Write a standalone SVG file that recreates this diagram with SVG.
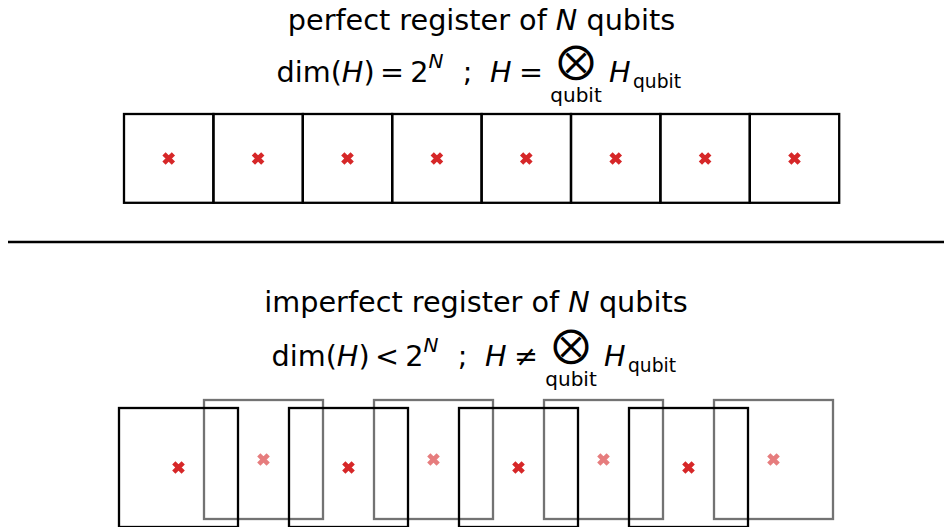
<svg xmlns="http://www.w3.org/2000/svg" width="944" height="527" viewBox="0 0 944 527">
<style>
text{font-family:"DejaVu Sans",sans-serif;fill:#000}
.t{font-size:28.7px}
.s{font-size:20px}
.ss{font-size:18.7px}
.op{font-size:37px}
.it{font-style:italic}
.box{fill:none;stroke:#000;stroke-width:2.3}
.gbox{fill:none;stroke:#000;stroke-opacity:0.55;stroke-width:2.3}
.x{fill:none;stroke:#d62728;stroke-width:4.6}
.xl{fill:none;stroke:#d62728;stroke-opacity:0.6;stroke-width:4.6}
</style>
<defs>
<path id="cross" d="M-4.7,-4.7L4.7,4.7M-4.7,4.7L4.7,-4.7"/>
</defs>
<rect width="944" height="527" fill="#fff"/>
<g id="top-title">
<text class="t" x="481.5" y="30" text-anchor="middle">perfect register of <tspan class="it">N</tspan> qubits</text>
<text class="t" x="276.5" y="82">dim(<tspan class="it">H</tspan>)</text>
<text class="t" x="392" y="82" text-anchor="middle">=</text>
<text class="t" x="419.5" y="82" text-anchor="middle">2</text>
<text class="s it" x="428.5" y="68">N</text>
<text class="t" x="467.5" y="82" text-anchor="middle">;</text>
<text class="t it" x="490" y="82">H</text>
<text class="t" x="531" y="82" text-anchor="middle">=</text>
<text class="op" x="576" y="73" text-anchor="middle">⨂</text>
<text class="s" x="576" y="101.5" text-anchor="middle">qubit</text>
<text class="t it" x="609" y="82">H</text>
<text class="ss" x="633" y="88">qubit</text>
</g>
<g id="perfect-register">
<g id="q1"><rect class="box" x="124" y="114" width="89.4" height="88.8"/><use href="#cross" class="x" x="168.7" y="158.5"/></g>
<g id="q2"><rect class="box" x="213.4" y="114" width="89.4" height="88.8"/><use href="#cross" class="x" x="258.1" y="158.5"/></g>
<g id="q3"><rect class="box" x="302.8" y="114" width="89.4" height="88.8"/><use href="#cross" class="x" x="347.5" y="158.5"/></g>
<g id="q4"><rect class="box" x="392.2" y="114" width="89.4" height="88.8"/><use href="#cross" class="x" x="436.9" y="158.5"/></g>
<g id="q5"><rect class="box" x="481.6" y="114" width="89.4" height="88.8"/><use href="#cross" class="x" x="526.3" y="158.5"/></g>
<g id="q6"><rect class="box" x="571" y="114" width="89.4" height="88.8"/><use href="#cross" class="x" x="615.7" y="158.5"/></g>
<g id="q7"><rect class="box" x="660.4" y="114" width="89.4" height="88.8"/><use href="#cross" class="x" x="705.1" y="158.5"/></g>
<g id="q8"><rect class="box" x="749.8" y="114" width="89.4" height="88.8"/><use href="#cross" class="x" x="794.5" y="158.5"/></g>
</g>
<g id="divider">
<line x1="8" y1="242" x2="944" y2="242" stroke="#000" stroke-width="2.5"/>
</g>
<g id="bottom-title">
<text class="t" x="476" y="312" text-anchor="middle">imperfect register of <tspan class="it">N</tspan> qubits</text>
<text class="t" x="271.5" y="366">dim(<tspan class="it">H</tspan>)</text>
<text class="t" x="387" y="366" text-anchor="middle">&lt;</text>
<text class="t" x="414.5" y="366" text-anchor="middle">2</text>
<text class="s it" x="423.5" y="352">N</text>
<text class="t" x="462.5" y="366" text-anchor="middle">;</text>
<text class="t it" x="485" y="366">H</text>
<text class="t" x="526" y="366" text-anchor="middle">≠</text>
<text class="op" x="571" y="357" text-anchor="middle">⨂</text>
<text class="s" x="571" y="385.5" text-anchor="middle">qubit</text>
<text class="t it" x="604" y="366">H</text>
<text class="ss" x="628" y="372">qubit</text>
</g>
<g id="imperfect-register">
<g id="b1"><rect class="box" x="119" y="408" width="119" height="119"/><use href="#cross" class="x" x="178.5" y="467.5"/></g>
<g id="b2"><rect class="box" x="289" y="408" width="119" height="119"/><use href="#cross" class="x" x="348.5" y="467.5"/></g>
<g id="b3"><rect class="box" x="459" y="408" width="119" height="119"/><use href="#cross" class="x" x="518.5" y="467.5"/></g>
<g id="b4"><rect class="box" x="629" y="408" width="119" height="119"/><use href="#cross" class="x" x="688.5" y="467.5"/></g>
<g id="g1"><rect class="gbox" x="204" y="400" width="119" height="119"/><use href="#cross" class="xl" x="263.5" y="459.5"/></g>
<g id="g2"><rect class="gbox" x="374" y="400" width="119" height="119"/><use href="#cross" class="xl" x="433.5" y="459.5"/></g>
<g id="g3"><rect class="gbox" x="544" y="400" width="119" height="119"/><use href="#cross" class="xl" x="603.5" y="459.5"/></g>
<g id="g4"><rect class="gbox" x="714" y="400" width="119" height="119"/><use href="#cross" class="xl" x="773.5" y="459.5"/></g>
</g>
</svg>
